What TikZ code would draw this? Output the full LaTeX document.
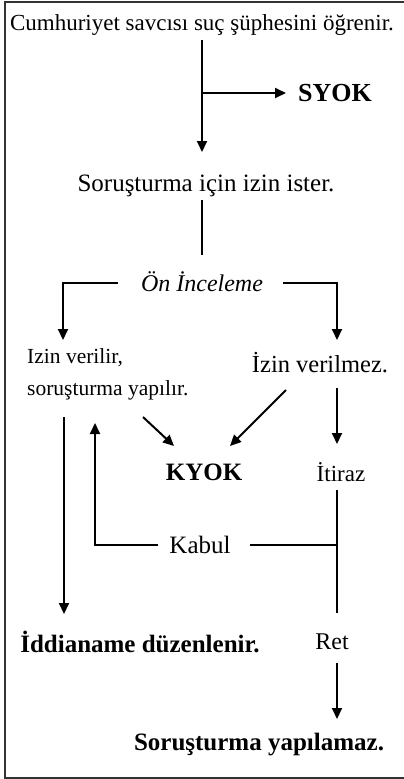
\documentclass[tikz,border=0pt]{standalone}
\usepackage{fontspec}
\setmainfont{Liberation Serif}
\usetikzlibrary{arrows.meta}
\newcommand{\fsz}[1]{\fontsize{#1}{#1}\selectfont}
\begin{document}
\begin{tikzpicture}[x=1pt,y=-1pt,
  ln/.style={line width=2pt},
  arr/.style={line width=2pt,-{Triangle[length=11pt,width=10pt]}},
  txt/.style={inner sep=0pt},
  small/.style={font=\fsz{21.5}, inner sep=0pt, anchor=west}]
\useasboundingbox (0,0) rectangle (404,779);
\draw[line width=2pt, draw=black!80] (408,1.5) -- (5,1.5) -- (5,777.5) -- (408,777.5);

\node[txt, font=\fsz{23}] (t) at (202,25) {Cumhuriyet savcısı suç şüphesini öğrenir.};
\node[txt, font=\fsz{26}\bfseries] (syok) at (335,93) {SYOK};
\node[txt, font=\fsz{25}] (izin) at (206,186) {Soruşturma için izin ister.};
\node[txt, font=\fsz{24}\itshape] (on) at (202,282) {Ön İnceleme};
\node[small] (v1) at (27,358) {Izin verilir,};
\node[small] (v2) at (27,390) {soruşturma yapılır.};
\node[txt, font=\fsz{24.5}] (vm) at (320,363) {İzin verilmez.};
\node[txt, font=\fsz{25}\bfseries] (kyok) at (204,472) {KYOK};
\node[txt, font=\fsz{23}] (itiraz) at (341,472) {İtiraz};
\node[txt, font=\fsz{25}] (kabul) at (200,545) {Kabul};
\node[txt, font=\fsz{25}\bfseries] (idd) at (140,642) {İddianame düzenlenir.};
\node[txt, font=\fsz{24}] (ret) at (332,642) {Ret};
\node[txt, font=\fsz{25}\bfseries] (sy) at (259,745) {Soruşturma yapılamaz.};

\coordinate (a0) at (202,40);
\coordinate (a1) at (202,152);
\coordinate (b0) at (202,93);
\coordinate (b1) at (286,93);
\coordinate (c0) at (202,200);
\coordinate (c1) at (202,255);
\coordinate (d0) at (118,283);
\coordinate (d1) at (63,283);
\coordinate (d2) at (63,340);
\coordinate (e0) at (283,283);
\coordinate (e1) at (337,283);
\coordinate (e2) at (337,340);
\coordinate (f0) at (286,390);
\coordinate (f1) at (230,446);
\coordinate (g0) at (143,417);
\coordinate (g1) at (174,446);
\coordinate (h0) at (337,388);
\coordinate (h1) at (337,444);
\coordinate (i0) at (64,417);
\coordinate (i1) at (64,614);
\coordinate (j0) at (158,545);
\coordinate (j1) at (95,545);
\coordinate (j2) at (95,423);
\coordinate (k0) at (250,545);
\coordinate (k1) at (337,545);
\coordinate (m0) at (337,490);
\coordinate (m1) at (337,613);
\coordinate (n0) at (337,663);
\coordinate (n1) at (337,719);

\draw[arr] (a0) -- (a1);
\draw[arr] (b0) -- (b1);
\draw[ln] (c0) -- (c1);
\draw[arr] (d0) -- (d1) -- (d2);
\draw[arr] (e0) -- (e1) -- (e2);
\draw[arr] (f0) -- (f1);
\draw[arr] (g0) -- (g1);
\draw[arr] (h0) -- (h1);
\draw[arr] (i0) -- (i1);
\draw[arr] (j0) -- (j1) -- (j2);
\draw[ln] (k0) -- (k1);
\draw[ln] (m0) -- (m1);
\draw[arr] (n0) -- (n1);
\end{tikzpicture}
\end{document}
